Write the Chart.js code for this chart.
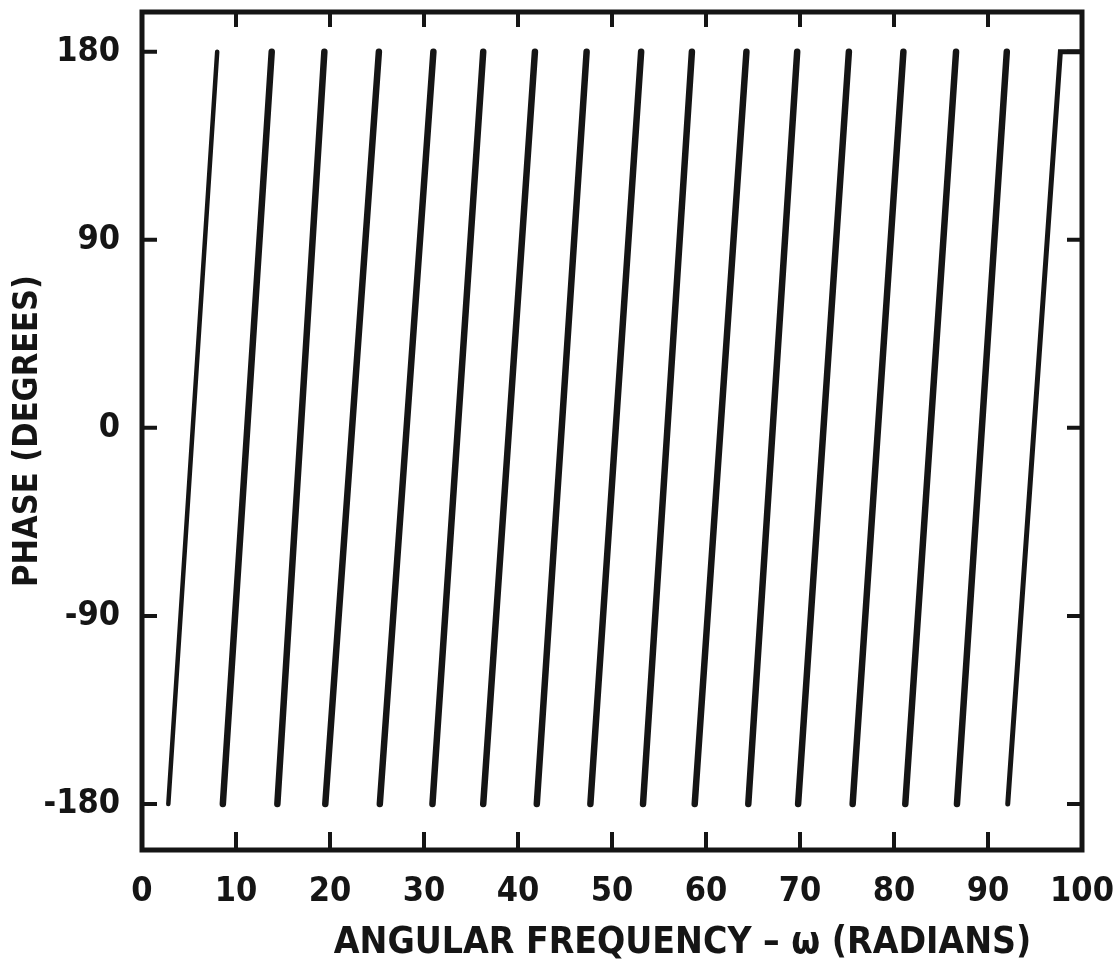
<!DOCTYPE html>
<html>
<head>
<meta charset="utf-8">
<script src="https://cdn.jsdelivr.net/npm/chart.js@4.4.0/dist/chart.umd.min.js"></script>
<style>
  html, body { margin: 0; padding: 0; background: #fff; }
  #wrap { width: 1117px; height: 961px; }
</style>
</head>
<body>
<div id="wrap"><canvas id="phaseChart" width="1117" height="961"></canvas></div>
<script>
// omega where each sawtooth branch starts (-180) and ends (+180)
const bottomX = [2.8, 8.6, 14.4, 19.5, 25.3, 30.9, 36.3, 42.0, 47.7, 53.3, 58.8, 64.5, 69.8, 75.6, 81.2, 86.7, 92.1];
const topX    = [8.0, 13.8, 19.4, 25.2, 31.0, 36.3, 41.8, 47.3, 53.1, 58.5, 64.3, 69.7, 75.2, 81.0, 86.6, 92.0, 97.7];
const phaseLow = -180;
const phaseHigh = 180;
const tailX = 100;          // last branch runs flat at +180 to the end
const xTicks = [0, 10, 20, 30, 40, 50, 60, 70, 80, 90, 100];
const yTicks = [-180, -90, 0, 90, 180];
const xTitle = 'ANGULAR FREQUENCY – ω (RADIANS)';
const yTitle = 'PHASE (DEGREES)';

const ink = '#151515';
const fontFamily = '"DejaVu Sans Condensed", "Liberation Sans Narrow", sans-serif';
Chart.defaults.font.family = fontFamily;
Chart.defaults.color = ink;

const datasets = bottomX.map((bx, i) => {
    const pts = [{ x: bx, y: phaseLow }, { x: topX[i], y: phaseHigh }];
    const last = i === bottomX.length - 1;
    if (last) pts.push({ x: tailX, y: phaseHigh });
    return {
        data: pts,
        borderColor: ink,
        borderWidth: (i === 0) ? 4.5 : (last ? 5 : 6.5),
        borderCapStyle: 'round',
        borderJoinStyle: 'miter',
        pointRadius: 0,
        tension: 0
    };
});

// ramka wykresu + krotkie kreski podzialki do srodka
const frameTicks = {
    id: 'frameTicks',
    afterDatasetsDraw(chart) {
        const { ctx, chartArea: a, scales: { x, y } } = chart;
        ctx.save();
        ctx.strokeStyle = ink;
        ctx.lineWidth = 5;
        ctx.strokeRect(a.left, a.top, a.right - a.left, a.bottom - a.top);
        ctx.lineWidth = 4;
        ctx.beginPath();
        xTicks.forEach(v => {
            if (v === 0 || v === 100) return;
            const px = x.getPixelForValue(v);
            ctx.moveTo(px, a.bottom); ctx.lineTo(px, a.bottom - 18);
            ctx.moveTo(px, a.top); ctx.lineTo(px, a.top + 15);
        });
        yTicks.forEach(v => {
            const py = y.getPixelForValue(v);
            ctx.moveTo(a.left, py); ctx.lineTo(a.left + 15, py);
            ctx.moveTo(a.right, py); ctx.lineTo(a.right - 15, py);
        });
        ctx.stroke();

        ctx.font = 'bold 37px ' + fontFamily;
        ctx.fillStyle = ink;
        ctx.textAlign = 'center';
        ctx.textBaseline = 'middle';
        ctx.fillText(xTitle, x.getPixelForValue(57.5), chart.height - 18);
        ctx.restore();
    }
};

const ctx = document.getElementById('phaseChart').getContext('2d');
new Chart(ctx, {
    type: 'line',
    data: { datasets: datasets },
    options: {
        responsive: false,
        animation: false,
        layout: { padding: { left: 0, right: 35, top: 12, bottom: 0 } },
        plugins: {
            legend: { display: false },
            tooltip: { enabled: false }
        },
        scales: {
            x: {
                type: 'linear',
                min: 0,
                max: 100,
                afterBuildTicks: scale => { scale.ticks = xTicks.map(v => ({ value: v })); },
                ticks: {
                    padding: 22,
                    font: { size: 34, weight: 'bold' },
                    color: ink,
                    maxRotation: 0
                },
                grid: { display: false, drawTicks: false },
                border: { display: false },
                afterFit: scale => { scale.height = 111; scale.paddingLeft = 0; scale.paddingRight = 0; }
            },
            y: {
                type: 'linear',
                min: -202,
                max: 199,
                afterBuildTicks: scale => { scale.ticks = yTicks.map(v => ({ value: v })); },
                ticks: {
                    padding: 22,
                    font: { size: 34, weight: 'bold' },
                    color: ink
                },
                grid: { display: false, drawTicks: false },
                border: { display: false },
                title: {
                    display: true,
                    text: yTitle,
                    font: { size: 34, weight: 'bold', lineHeight: 1 },
                    color: ink,
                    padding: { top: 11, bottom: 0 }
                },
                afterFit: scale => { scale.width = 142; scale.paddingTop = 0; scale.paddingBottom = 0; }
            }
        }
    },
    plugins: [frameTicks]
});
</script>
</body>
</html>
